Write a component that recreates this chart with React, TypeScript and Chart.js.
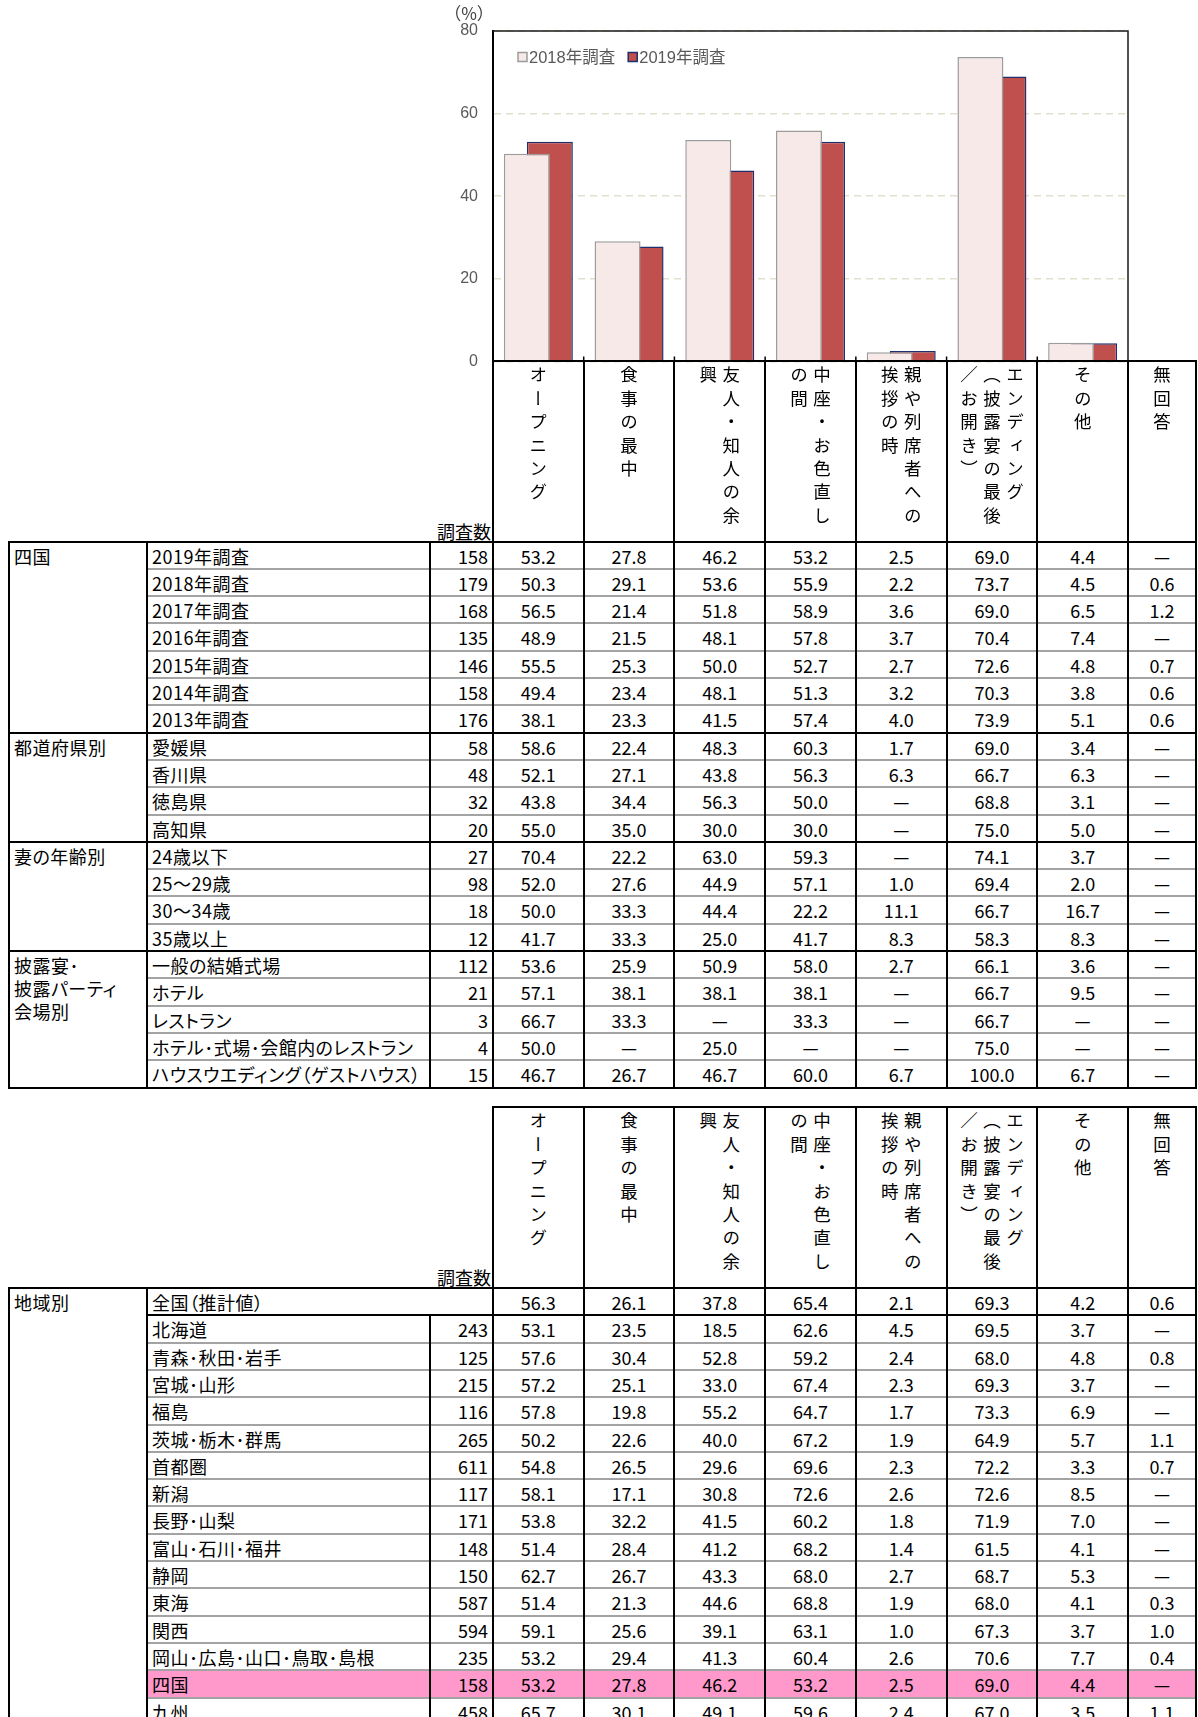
import React, { useEffect, useRef } from 'react';
import { Chart, registerables } from 'chart.js';

Chart.register(...registerables);

// ---------------- chart data ----------------
const chartCategories = [
  'オープニング',
  '食事の最中',
  '友人・知人の余興',
  '中座・お色直しの間',
  '親や列席者への挨拶の時',
  'エンディング（披露宴の最後／お開き）',
  'その他',
];
const seriesLabels = ['2018年調査', '2019年調査'];
const values2018 = [50.3, 29.1, 53.6, 55.9, 2.2, 73.7, 4.5];
const values2019 = [53.2, 27.8, 46.2, 53.2, 2.5, 69.0, 4.4];
const yTickValues = [0, 20, 40, 60, 80];
const yUnitLabel = '（%）';

// ---------------- table header ----------------
const columnHeaderLines = [
  ['オープニング'],
  ['食事の最中'],
  ['友人・知人の余', '興'],
  ['中座・お色直し', 'の間'],
  ['親や列席者への', '挨拶の時'],
  ['エンディング', '（披露宴の最後', '／お開き）'],
  ['その他'],
  ['無回答'],
];
const countHeader = '調査数';

// ---------------- table 1 ----------------
const N = null;
const shikokuTitle = ['四国'];
const shikokuLabels = ['2019年調査', '2018年調査', '2017年調査', '2016年調査', '2015年調査', '2014年調査', '2013年調査'];
const shikokuCounts = [158, 179, 168, 135, 146, 158, 176];
const shikokuValues = [
  [53.2, 27.8, 46.2, 53.2, 2.5, 69.0, 4.4, N],
  [50.3, 29.1, 53.6, 55.9, 2.2, 73.7, 4.5, 0.6],
  [56.5, 21.4, 51.8, 58.9, 3.6, 69.0, 6.5, 1.2],
  [48.9, 21.5, 48.1, 57.8, 3.7, 70.4, 7.4, N],
  [55.5, 25.3, 50.0, 52.7, 2.7, 72.6, 4.8, 0.7],
  [49.4, 23.4, 48.1, 51.3, 3.2, 70.3, 3.8, 0.6],
  [38.1, 23.3, 41.5, 57.4, 4.0, 73.9, 5.1, 0.6],
];

const prefTitle = ['都道府県別'];
const prefLabels = ['愛媛県', '香川県', '徳島県', '高知県'];
const prefCounts = [58, 48, 32, 20];
const prefValues = [
  [58.6, 22.4, 48.3, 60.3, 1.7, 69.0, 3.4, N],
  [52.1, 27.1, 43.8, 56.3, 6.3, 66.7, 6.3, N],
  [43.8, 34.4, 56.3, 50.0, N, 68.8, 3.1, N],
  [55.0, 35.0, 30.0, 30.0, N, 75.0, 5.0, N],
];

const ageTitle = ['妻の年齢別'];
const ageLabels = ['24歳以下', '25～29歳', '30～34歳', '35歳以上'];
const ageCounts = [27, 98, 18, 12];
const ageValues = [
  [70.4, 22.2, 63.0, 59.3, N, 74.1, 3.7, N],
  [52.0, 27.6, 44.9, 57.1, 1.0, 69.4, 2.0, N],
  [50.0, 33.3, 44.4, 22.2, 11.1, 66.7, 16.7, N],
  [41.7, 33.3, 25.0, 41.7, 8.3, 58.3, 8.3, N],
];

const venueTitle = ['披露宴･', '披露パーティ', '会場別'];
const venueLabels = ['一般の結婚式場', 'ホテル', 'レストラン', 'ホテル･式場･会館内のレストラン', 'ハウスウエディング（ゲストハウス）'];
const venueCounts = [112, 21, 3, 4, 15];
const venueValues = [
  [53.6, 25.9, 50.9, 58.0, 2.7, 66.1, 3.6, N],
  [57.1, 38.1, 38.1, 38.1, N, 66.7, 9.5, N],
  [66.7, 33.3, N, 33.3, N, 66.7, N, N],
  [50.0, N, 25.0, N, N, 75.0, N, N],
  [46.7, 26.7, 46.7, 60.0, 6.7, 100.0, 6.7, N],
];

// ---------------- table 2 ----------------
const regionTitle = ['地域別'];
const nationalLabel = '全国（推計値）';
const nationalValues = [56.3, 26.1, 37.8, 65.4, 2.1, 69.3, 4.2, 0.6];
const regionLabels = [
  '北海道', '青森･秋田･岩手', '宮城･山形', '福島', '茨城･栃木･群馬', '首都圏', '新潟', '長野･山梨',
  '富山･石川･福井', '静岡', '東海', '関西', '岡山･広島･山口･鳥取･島根', '四国', '九州',
];
const regionCounts = [243, 125, 215, 116, 265, 611, 117, 171, 148, 150, 587, 594, 235, 158, 458];
const regionValues = [
  [53.1, 23.5, 18.5, 62.6, 4.5, 69.5, 3.7, N],
  [57.6, 30.4, 52.8, 59.2, 2.4, 68.0, 4.8, 0.8],
  [57.2, 25.1, 33.0, 67.4, 2.3, 69.3, 3.7, N],
  [57.8, 19.8, 55.2, 64.7, 1.7, 73.3, 6.9, N],
  [50.2, 22.6, 40.0, 67.2, 1.9, 64.9, 5.7, 1.1],
  [54.8, 26.5, 29.6, 69.6, 2.3, 72.2, 3.3, 0.7],
  [58.1, 17.1, 30.8, 72.6, 2.6, 72.6, 8.5, N],
  [53.8, 32.2, 41.5, 60.2, 1.8, 71.9, 7.0, N],
  [51.4, 28.4, 41.2, 68.2, 1.4, 61.5, 4.1, N],
  [62.7, 26.7, 43.3, 68.0, 2.7, 68.7, 5.3, N],
  [51.4, 21.3, 44.6, 68.8, 1.9, 68.0, 4.1, 0.3],
  [59.1, 25.6, 39.1, 63.1, 1.0, 67.3, 3.7, 1.0],
  [53.2, 29.4, 41.3, 60.4, 2.6, 70.6, 7.7, 0.4],
  [53.2, 27.8, 46.2, 53.2, 2.5, 69.0, 4.4, N],
  [65.7, 30.1, 49.1, 59.6, 2.4, 67.0, 3.5, 1.1],
];
const highlightRegion = '四国';

// ---------------- layout constants ----------------
const CANVAS_L = 420;
const CANVAS_H = 386;
const PLOT_L = 493;
const PLOT_R = 1128;
const TABLE_L = 9;
const GROUP_R = 147;
const ITEM_R = 430;
const TABLE_R = 1196;
const COL_W = (PLOT_R - PLOT_L) / 7;
const colEdges = [0, 1, 2, 3, 4, 5, 6, 7].map((k) => PLOT_L + k * COL_W).concat([TABLE_R]);
const ROW_H = 27.3;
const H1_TOP = 361;
const H1_BOT = 541.5;
const H2_TOP = 1107;
const H2_BOT = 1288;

const CJK = "'Noto Sans CJK JP', 'Noto Sans CJK SC', sans-serif";
const LATIN_CJK = "'Liberation Sans', 'Noto Sans CJK JP', sans-serif";
const FS = 18;

const fmt = (v: number | null) => (v === null ? '—' : v.toFixed(1));

const framePlugin = {
  id: 'frame',
  afterDraw(chart: any) {
    const { ctx, chartArea: a, scales } = chart;
    ctx.save();
    ctx.strokeStyle = '#1a1a1a';
    ctx.lineWidth = 1.5;
    ctx.beginPath();
    ctx.moveTo(a.left, a.top);
    ctx.lineTo(a.right, a.top);
    ctx.lineTo(a.right, a.bottom);
    ctx.stroke();
    const xs = scales.x;
    ctx.strokeStyle = '#000';
    ctx.beginPath();
    for (let i = 0; i < chartCategories.length - 1; i++) {
      const bx = (xs.getPixelForValue(i) + xs.getPixelForValue(i + 1)) / 2;
      ctx.moveTo(bx, a.bottom);
      ctx.lineTo(bx, a.bottom - 5);
    }
    ctx.stroke();
    ctx.restore();
  },
};

// legend drawn inside the plot area, top-left
const insideLegendPlugin = {
  id: 'insideLegend',
  afterDatasetsDraw(chart: any) {
    const { ctx, chartArea: a } = chart;
    ctx.save();
    ctx.font = `16.5px ${LATIN_CJK}`;
    ctx.textBaseline = 'middle';
    let x = a.left + 25;
    const cy = a.top + 26;
    chart.data.datasets.forEach((ds: any) => {
      const box = 9;
      ctx.fillStyle = ds.backgroundColor;
      ctx.fillRect(x, cy - box / 2, box, box);
      ctx.strokeStyle = ds.borderColor;
      ctx.lineWidth = 1.5;
      ctx.strokeRect(x, cy - box / 2, box, box);
      x += box + 2;
      ctx.fillStyle = '#595959';
      ctx.fillText(ds.label, x, cy + 1);
      x += ctx.measureText(ds.label).width + 13;
    });
    ctx.restore();
  },
};

type Group = { title: string[]; labels: string[]; counts: number[]; values: (number | null)[][] };

const table1Groups: Group[] = [
  { title: shikokuTitle, labels: shikokuLabels, counts: shikokuCounts, values: shikokuValues },
  { title: prefTitle, labels: prefLabels, counts: prefCounts, values: prefValues },
  { title: ageTitle, labels: ageLabels, counts: ageCounts, values: ageValues },
  { title: venueTitle, labels: venueLabels, counts: venueCounts, values: venueValues },
];

function buildTables(): React.ReactNode[] {
  const bg: React.ReactNode[] = [];
  const txt: React.ReactNode[] = [];
  const gray: React.ReactNode[] = [];
  const vl: React.ReactNode[] = [];
  const hl: React.ReactNode[] = [];
  let key = 0;

  const hline = (arr: React.ReactNode[], x1: number, x2: number, y: number, color = '#000', w = 2) => {
    arr.push(
      <div key={key++} style={{ position: 'absolute', left: x1, top: y - w / 2, width: x2 - x1, height: w, background: color }} />
    );
  };
  const vline = (x: number, y1: number, y2: number, color = '#000', w = 2) => {
    vl.push(
      <div key={key++} style={{ position: 'absolute', left: x - w / 2, top: y1 - 1, width: w, height: y2 - y1 + 2, background: color }} />
    );
  };
  const text = (s: string, left: number, top: number, width: number, height: number, align: 'left' | 'right' | 'center', extra: any = {}) => {
    txt.push(
      <div
        key={key++}
        style={{
          position: 'absolute', left, top, width, height, lineHeight: height + 'px', textAlign: align,
          fontSize: FS, fontFamily: CJK, color: '#000', whiteSpace: 'nowrap', ...extra,
        }}
      >
        {s}
      </div>
    );
  };

  const header = (top: number, bot: number) => {
    hline(hl, PLOT_L - 1, TABLE_R + 1, top);
    colEdges.forEach((x) => vline(x, top, bot));
    columnHeaderLines.forEach((lines, k) => {
      txt.push(
        <div
          key={key++}
          style={{
            position: 'absolute', left: colEdges[k], top: top + 5, width: colEdges[k + 1] - colEdges[k],
            display: 'flex', justifyContent: 'center', alignItems: 'flex-start',
          }}
        >
          <div
            style={{
              writingMode: 'vertical-rl', fontFamily: CJK, fontSize: 17.5, letterSpacing: '5.9px',
              lineHeight: '23px', color: '#000', whiteSpace: 'nowrap',
            }}
          >
            {lines.map((l, i) => (
              <React.Fragment key={i}>
                {l}
                {i < lines.length - 1 ? <br /> : null}
              </React.Fragment>
            ))}
          </div>
        </div>
      );
    });
    text(countHeader, ITEM_R, bot - 22, PLOT_L - ITEM_R - 2, 22, 'right');
  };

  const labelStyle = { lineHeight: ROW_H + 2 + 'px', fontFeatureSettings: '"palt"', letterSpacing: '0.5px' };

  const dataRow = (y: number, label: string, count: number | null, values: (number | null)[], spanLabel = false) => {
    text(label, GROUP_R + 5, y, spanLabel ? PLOT_L - GROUP_R - 8 : ITEM_R - GROUP_R - 5, ROW_H, 'left', labelStyle);
    if (count !== null) text(String(count), ITEM_R, y, PLOT_L - ITEM_R - 5, ROW_H, 'right', { lineHeight: ROW_H + 2 + 'px' });
    values.forEach((v, k) => {
      text(fmt(v), colEdges[k], y, colEdges[k + 1] - colEdges[k], ROW_H, 'center', { lineHeight: ROW_H + 2 + 'px' });
    });
  };

  const groupTitle = (y: number, title: string[]) => {
    txt.push(
      <div
        key={key++}
        style={{
          position: 'absolute', left: TABLE_L + 5, top: y + 3, width: GROUP_R - TABLE_L - 6,
          fontFamily: CJK, fontSize: FS, lineHeight: '23px', color: '#000', whiteSpace: 'nowrap',
          fontFeatureSettings: '"palt"', letterSpacing: '0.5px',
        }}
      >
        {title.map((t, i) => (
          <div key={i}>{t}</div>
        ))}
      </div>
    );
  };

  // ---------- table 1 ----------
  header(H1_TOP, H1_BOT);
  let y = H1_BOT;
  hline(hl, TABLE_L - 1, TABLE_R + 1, y);
  table1Groups.forEach((g) => {
    groupTitle(y, g.title);
    g.labels.forEach((lab, i) => {
      dataRow(y, lab, g.counts[i], g.values[i]);
      y += ROW_H;
      if (i < g.labels.length - 1) hline(gray, GROUP_R, TABLE_R, y, '#a3a3a3', 2);
    });
    hline(hl, TABLE_L - 1, TABLE_R + 1, y);
  });
  [TABLE_L, GROUP_R, ITEM_R].concat(colEdges).forEach((x) => vline(x, H1_BOT, y));

  // ---------- table 2 ----------
  header(H2_TOP, H2_BOT);
  y = H2_BOT;
  hline(hl, TABLE_L - 1, TABLE_R + 1, y);
  groupTitle(y, regionTitle);
  dataRow(y, nationalLabel, null, nationalValues, true);
  y += ROW_H;
  hline(hl, GROUP_R - 1, TABLE_R + 1, y);
  const regionTop = y;
  regionLabels.forEach((lab, i) => {
    if (lab === highlightRegion) {
      bg.push(
        <div key={key++} style={{ position: 'absolute', left: GROUP_R, top: y, width: TABLE_R - GROUP_R, height: ROW_H, background: '#ff99cc' }} />
      );
    }
    dataRow(y, lab, regionCounts[i], regionValues[i]);
    y += ROW_H;
    hline(gray, GROUP_R, TABLE_R, y, '#a3a3a3', 2);
  });
  [TABLE_L, GROUP_R].concat(colEdges).forEach((x) => vline(x, H2_BOT, y + 20));
  vline(ITEM_R, regionTop, y + 20);

  return [...bg, ...txt, ...gray, ...vl, ...hl];
}

export default function App() {
  const canvasRef = useRef<HTMLCanvasElement | null>(null);

  useEffect(() => {
    const canvas = canvasRef.current;
    if (!canvas) return;
    const chart = new Chart(canvas, {
      type: 'bar',
      data: {
        labels: chartCategories,
        datasets: [
          {
            label: seriesLabels[0],
            data: values2018,
            backgroundColor: '#f8e9e9',
            borderColor: '#9c9c9c',
            borderWidth: 1.5,
          },
          {
            label: seriesLabels[1],
            data: values2019,
            backgroundColor: '#c0504d',
            borderColor: '#1f2f6b',
            borderWidth: 1.5,
          },
        ],
      },
      options: {
        responsive: false,
        animation: false,
        datasets: { bar: { categoryPercentage: 0.507, barPercentage: 2 } } as any,
        layout: { padding: { top: 31, right: 12, bottom: 0, left: 0 } },
        plugins: {
          legend: { display: false },
          tooltip: { enabled: false },
        },
        scales: {
          x: { display: false, offset: true, grid: { display: false } },
          y: {
            min: 0,
            max: 80,
            afterBuildTicks: (s: any) => {
              s.ticks = yTickValues.map((v) => ({ value: v }));
            },
            afterFit: (s: any) => {
              s.width = PLOT_L - CANVAS_L;
            },
            ticks: { padding: 15, color: '#595959', font: { family: LATIN_CJK, size: 16 } },
            grid: { color: '#e2dfcb', lineWidth: 1.5, drawTicks: false },
            border: { display: true, color: '#000', width: 2, dash: [7, 5] },
          },
        },
      },
      plugins: [framePlugin, insideLegendPlugin],
    });
    return () => chart.destroy();
  }, []);

  return (
    <div
      style={{
        position: 'absolute', left: 0, top: 0, width: 1198, height: 1717, overflow: 'hidden',
        background: '#fff', fontFamily: CJK,
      }}
    >
      <canvas ref={canvasRef} width={720} height={CANVAS_H} style={{ position: 'absolute', left: CANVAS_L, top: 0, width: 720, height: CANVAS_H }} />
      <div
        style={{
          position: 'absolute', left: 443, top: 2, width: 52, height: 22, lineHeight: '22px',
          fontFamily: CJK, fontSize: 17, color: '#404040', textAlign: 'center',
        }}
      >
        {yUnitLabel}
      </div>
      {buildTables()}
    </div>
  );
}
